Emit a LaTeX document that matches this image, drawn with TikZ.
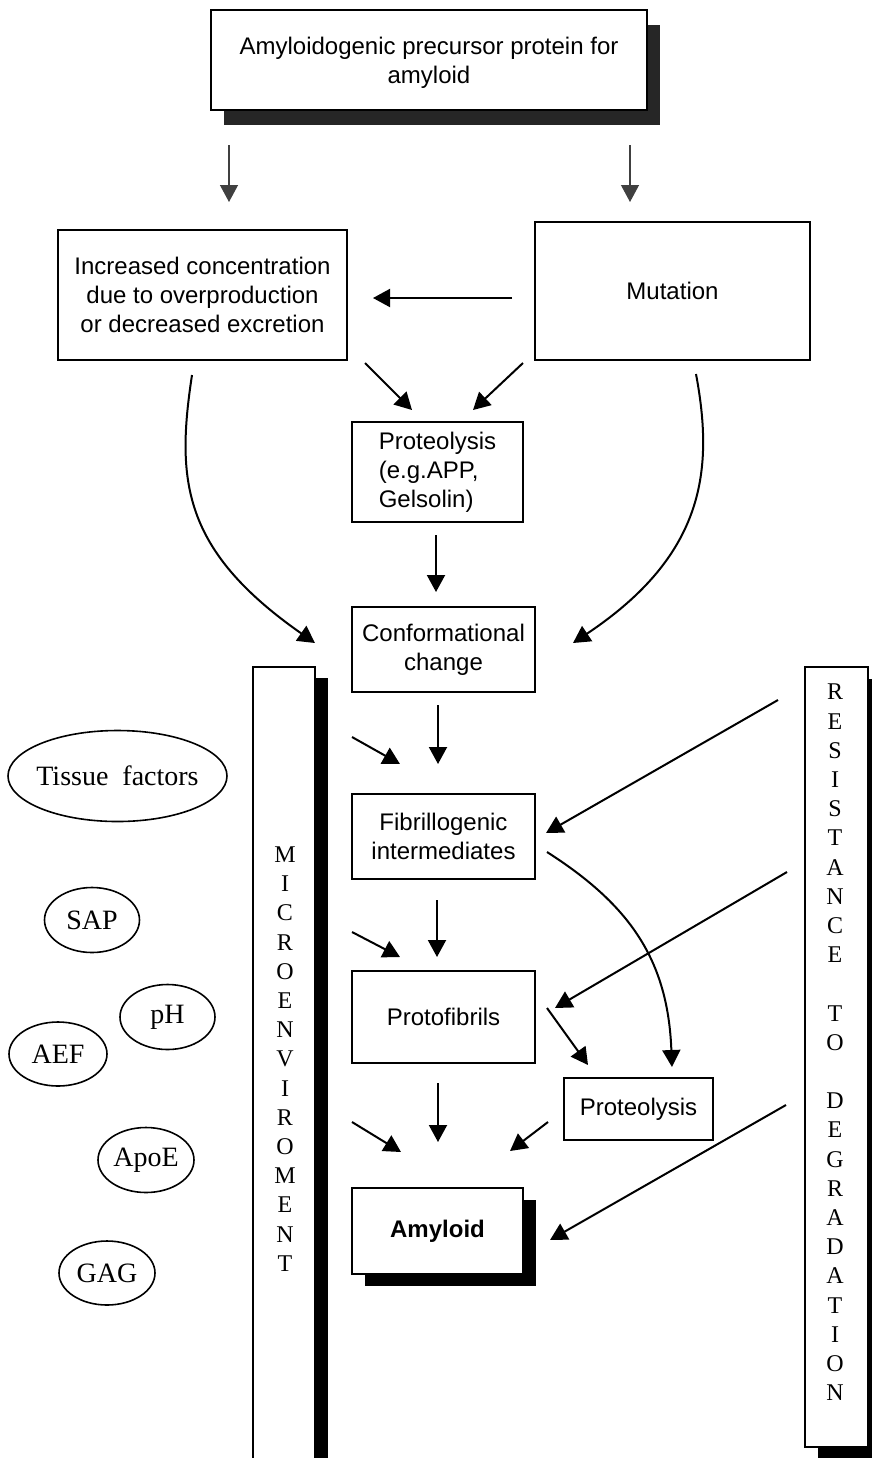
\documentclass[tikz,border=0pt]{standalone}
\usepackage{fontspec}
\setmainfont{Liberation Serif}
\newfontfamily\arial{Liberation Sans}
\usetikzlibrary{positioning}
\usetikzlibrary{shapes.geometric}
\usetikzlibrary{shadows}
\usetikzlibrary{arrows.meta}

\begin{document}
\begin{tikzpicture}[x=0.5pt,y=-0.5pt,->,>={Triangle[length=8.5pt,width=9pt]},line width=1pt]
\tikzstyle{v}=[rectangle,draw,line width=1pt,fill=white,inner sep=0pt,align=center,font=\arial\fontsize{12}{14.5}\selectfont]
\tikzstyle{e}=[ellipse,draw,thick,inner sep=0pt,font=\fontsize{14}{16}\selectfont]
\tikzstyle{s}=[drop shadow={shadow xshift=6.5pt,shadow yshift=-6pt,fill=black,opacity=1}]
\tikzstyle{strip}=[rectangle,draw,line width=1pt,fill=white,s]
\tikzstyle{letters}=[align=center,inner sep=0pt,font=\fontsize{12}{14.6}\selectfont]
\useasboundingbox (0,0) rectangle (872,1458);
% boxes
\node[v,minimum width=218pt,minimum height=50pt,drop shadow={shadow xshift=6.5pt,shadow yshift=-7.5pt,fill=black!85,opacity=1}] (T) at (429,60) {\raisebox{-4.5pt}[0pt][0pt]{\begin{tabular}{@{}c@{}}Amyloidogenic precursor protein for\\amyloid\end{tabular}}};
\node[v,minimum width=144.5pt,minimum height=65pt] (I) at (202.5,295) {Increased concentration\\due to overproduction\\or decreased excretion};
\node[v,minimum width=137.5pt,minimum height=69pt] (M) at (672.5,291) {Mutation};
\node[v,minimum width=85.5pt,minimum height=50pt,align=left] (P1) at (437.5,472) {Proteolysis\\(e.g.APP,\\Gelsolin)};
\node[v,minimum width=91.5pt,minimum height=42.5pt] (C) [below=41.5pt of P1.south west,anchor=north west] {Conformational\\change};
\node[v,minimum width=91.5pt,minimum height=42.5pt] (F) [below=50pt of C.south west,anchor=north west] {Fibrillogenic\\intermediates};
\node[v,minimum width=91.5pt,minimum height=46pt] (PF) [below=45pt of F.south west,anchor=north west] {Protofibrils};
\node[v,minimum width=74.5pt,minimum height=31pt] (P2) at (638.5,1109) {Proteolysis};
\node[v,s,minimum width=85.5pt,minimum height=43pt,font=\arial\bfseries\fontsize{12}{14.5}\selectfont] (A) [below=61.5pt of PF.south west,anchor=north west] {Amyloid};
% side strips
\node[strip,minimum width=31pt,minimum height=406.5pt,drop shadow={shadow xshift=6.5pt,shadow yshift=-5.5pt,fill=black,opacity=1}] (MI) at (284,1073.5) {};
\node[letters] (MIt) at (285,1059) {M\\I\\C\\R\\O\\E\\N\\V\\I\\R\\O\\M\\E\\N\\T};
\node[strip,minimum width=31.5pt,minimum height=390pt] (RD) at (836.5,1057) {};
\node[letters] (RDt) at (835,1042.5) {R\\E\\S\\I\\S\\T\\A\\N\\C\\E\\~\\T\\O\\~\\D\\E\\G\\R\\A\\D\\A\\T\\I\\O\\N};
% factors
\node[e,minimum width=109.5pt,minimum height=45.5pt,inner xsep=-2.5pt] (tissue) at (117.5,776) {Tissue~ factors};
\node[e,minimum width=47.5pt,minimum height=32.5pt] (sap) at (92,920) {SAP};
\node[e,minimum width=47.5pt,minimum height=32.5pt] (ph) at (167.5,1017) {pH};
\node[e,minimum width=49pt,minimum height=32pt] (aef) at (58,1054) {AEF};
\node[e,minimum width=48pt,minimum height=32.5pt] (apoe) at (146,1160) {ApoE};
\node[e,minimum width=48pt,minimum height=32pt] (gag) at (107,1273) {GAG};
% arrow ends
\coordinate (t1) at (229,145); \coordinate (t2) at (229,202);
\coordinate (t3) at (630,145); \coordinate (t4) at (630,202);
\coordinate (m1) at (512,298); \coordinate (m2) at (373,298);
\coordinate (i1) at (365,363); \coordinate (i2) at (412,410);
\coordinate (m3) at (523,363); \coordinate (m4) at (473,410);
\coordinate (p1) at (436,535); \coordinate (p2) at (436,592);
\coordinate (i3) at (192,375); \coordinate (i4) at (315,643);
\coordinate (m5) at (696,374); \coordinate (m6) at (573,643);
\coordinate (c1) at (438,705); \coordinate (c2) at (438,764);
\coordinate (e1) at (352,737); \coordinate (e2) at (400,764);
\coordinate (r1) at (778,700); \coordinate (r2) at (546,833);
\coordinate (f1) at (547,852); \coordinate (f2) at (672,1067);
\coordinate (f3) at (437,900); \coordinate (f4) at (437,957);
\coordinate (e3) at (352,932); \coordinate (e4) at (400,957);
\coordinate (r3) at (787,872); \coordinate (r4) at (555,1008);
\coordinate (q1) at (547,1008); \coordinate (q2) at (588,1065);
\coordinate (q3) at (438,1083); \coordinate (q4) at (438,1142);
\coordinate (e5) at (352,1122); \coordinate (e6) at (401,1152);
\coordinate (o1) at (548,1122); \coordinate (o2) at (510,1151);
\coordinate (r5) at (786,1105); \coordinate (r6) at (550,1240);
% connectors
\draw[line width=0.6pt,black!75] (t1) -- (t2);
\draw[line width=0.6pt,black!75] (t3) -- (t4);
\path (m1) edge (m2)
      (i1) edge (i2)
      (m3) edge (m4)
      (p1) edge (p2)
      (c1) edge (c2)
      (e1) edge (e2)
      (r1) edge (r2)
      (f3) edge (f4)
      (e3) edge (e4)
      (r3) edge (r4)
      (q1) edge (q2)
      (q3) edge (q4)
      (e5) edge (e6)
      (o1) edge (o2)
      (r5) edge (r6);
\draw (i3) .. controls (176,480) and (182,550) .. (i4);
\draw (m5) .. controls (714,470) and (705,555) .. (m6);
\draw (f1) .. controls (630,905) and (668,960) .. (f2);
\end{tikzpicture}
\end{document}
